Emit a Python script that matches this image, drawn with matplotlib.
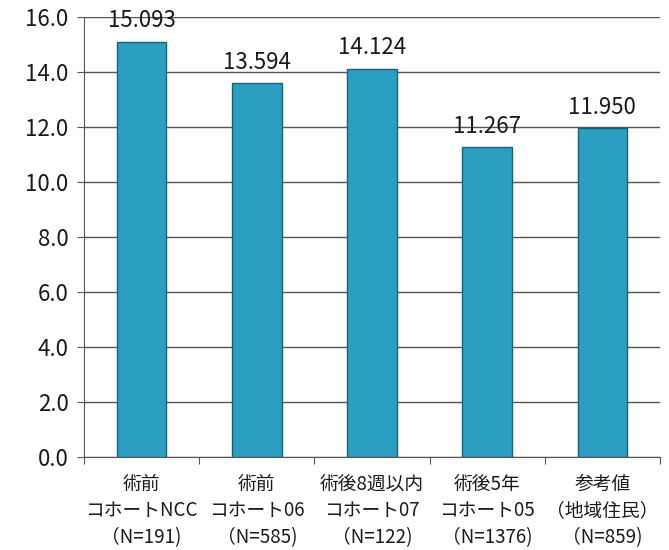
import numpy as np
import matplotlib.pyplot as plt

plt.rcParams['font.family'] = ['Noto Sans CJK JP', 'DejaVu Sans']

categories = ['術前\nコホートNCC\n（N=191)', '術前\nコホート06\n（N=585)',
              '術後8週以内\nコホート07\n（N=122)', '術後5年\nコホート05\n（N=1376)',
              '参考値\n（地域住民）\n（N=859)']
values = [15.093, 13.594, 14.124, 11.267, 11.950]
value_labels = ['15.093', '13.594', '14.124', '11.267', '11.950']
yticks = [0, 2, 4, 6, 8, 10, 12, 14, 16]

fig = plt.figure(figsize=(6.69, 5.5), dpi=100)
ax = fig.add_axes([0.1256, 0.169, 0.861, 0.800])

x = np.arange(len(values))
ax.bar(x, values, width=0.43, color='#2a9fc2', edgecolor='#1d5f72',
       linewidth=1.0, zorder=3)

for xi, v, lab in zip(x, values, value_labels):
    ax.text(xi, v + 0.35, lab, ha='center', va='bottom', fontsize=16,
            color='#1a1a1a', zorder=4)

ax.set_xlim(-0.5, len(values) - 0.5)
ax.set_ylim(0, 16)
ax.set_yticks(yticks)
ax.set_yticklabels([f'{t:.1f}' for t in yticks], fontsize=16, color='#1a1a1a')
ax.yaxis.grid(True, color='#555555', linewidth=1.0, zorder=0)

# category ticks sit on the boundaries between bars
ax.set_xticks(np.arange(-0.5, len(values), 1.0))
ax.set_xticklabels([])
ax.set_xticks(x, minor=True)
ax.set_xticklabels(categories, minor=True, fontsize=13.5, color='#1a1a1a',
                   linespacing=1.35)
ax.tick_params(axis='x', which='minor', length=0, pad=12)
ax.tick_params(axis='x', which='major', length=5, color='#555555', direction='out')
ax.tick_params(axis='y', length=5, color='#555555', pad=6)

for side in ['top', 'right']:
    ax.spines[side].set_visible(False)
ax.spines['left'].set_color('#555555')
ax.spines['bottom'].set_color('#555555')

fig.savefig('out.png', dpi=100)
